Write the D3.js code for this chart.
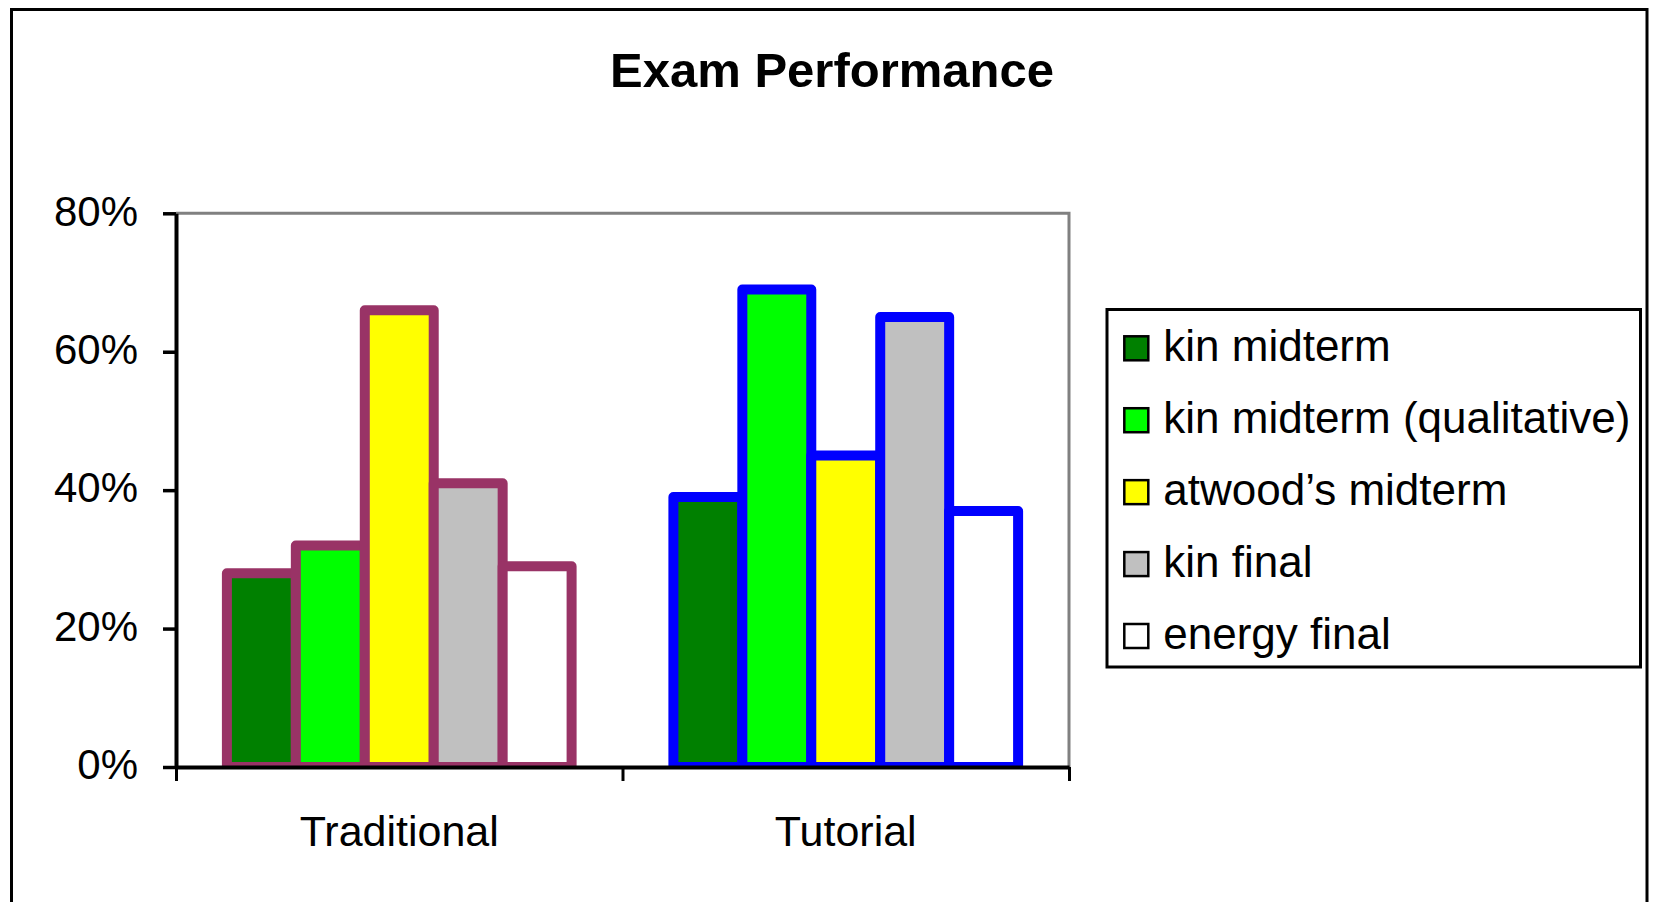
<!DOCTYPE html>
<html>
<head>
<meta charset="utf-8">
<script src="https://cdn.jsdelivr.net/npm/d3@7"></script>
<style>
  html, body { margin: 0; padding: 0; background: #fff; }
  svg { display: block; }
  text { font-family: "Liberation Sans", Arial, Helvetica, sans-serif; fill: #000; }
</style>
</head>
<body>
<svg id="chart" width="1660" height="902"></svg>
<script>
// Exam scores by teaching method
const categories = ["Traditional", "Tutorial"];
const seriesNames = ["kin midterm", "kin midterm (qualitative)", "atwood\u2019s midterm", "kin final", "energy final"];
const traditionalValues = [0.28, 0.32, 0.66, 0.41, 0.29];
const tutorialValues = [0.39, 0.69, 0.45, 0.65, 0.37];
const yTicks = [0, 0.2, 0.4, 0.6, 0.8];
const titleText = "Exam Performance";

const seriesFills = ["#008000", "#00ff00", "#ffff00", "#c0c0c0", "#ffffff"];
const groupStrokes = { "Traditional": "#993366", "Tutorial": "#0000ff" };

const valuesByCategory = { "Traditional": traditionalValues, "Tutorial": tutorialValues };

const svg = d3.select("#chart");

// outer frame
svg.append("rect")
  .attr("x", 11.5).attr("y", 9.5)
  .attr("width", 1647 - 11.5).attr("height", 1000)
  .attr("fill", "none").attr("stroke", "#000").attr("stroke-width", 3);

// title
svg.append("text")
  .attr("x", 832).attr("y", 87)
  .attr("text-anchor", "middle")
  .style("font-size", "49px").style("font-weight", "bold")
  .text(titleText);

const plot = { left: 176, right: 1069, top: 213.3, bottom: 767 };

const y = d3.scaleLinear().domain([0, 0.8]).range([plot.bottom, plot.top]);
const x0 = d3.scaleBand().domain(categories)
  .range([plot.left, plot.right])
  .paddingInner(0.228).paddingOuter(0.114);
const x1 = d3.scaleBand().domain(seriesNames).range([0, x0.bandwidth()]).padding(0);

// plot frame: top and right edges in gray
svg.append("path")
  .attr("d", `M${plot.left},${plot.top}H${plot.right}V${plot.bottom}`)
  .attr("fill", "none").attr("stroke", "#808080").attr("stroke-width", 3);

// bars, clipped at the category axis
svg.append("clipPath").attr("id", "plotClip")
  .append("rect").attr("x", 0).attr("y", 0).attr("width", 1660).attr("height", plot.bottom);

const bars = svg.append("g").attr("clip-path", "url(#plotClip)");
categories.forEach(cat => {
  const g = bars.append("g").attr("transform", `translate(${x0(cat)},0)`);
  g.selectAll("rect")
    .data(seriesNames.map((s, i) => ({ s, i, v: valuesByCategory[cat][i] })))
    .join("rect")
    .attr("x", d => x1(d.s))
    .attr("y", d => y(d.v))
    .attr("width", x1.bandwidth())
    .attr("height", d => y(0) - y(d.v))
    .attr("fill", d => seriesFills[d.i])
    .attr("stroke", groupStrokes[cat])
    .attr("stroke-width", 10)
    .attr("stroke-linejoin", "round");
});

// y axis
const yAxis = svg.append("g")
  .attr("transform", `translate(${plot.left},0)`)
  .call(d3.axisLeft(y).tickValues(yTicks).tickFormat(d3.format(".0%"))
    .tickSize(13).tickSizeOuter(0).tickPadding(25));
yAxis.select(".domain").attr("stroke", "#000").attr("stroke-width", 4);
yAxis.selectAll(".tick line").attr("stroke", "#000").attr("stroke-width", 3.5);
yAxis.selectAll(".tick text")
  .style("font-size", "42px").attr("dy", "0.28em")
  .attr("font-family", null);

// x axis: tick marks between categories
const xBound = d3.scaleLinear().domain([0, categories.length]).range([plot.left, plot.right]);
const xTickAxis = svg.append("g")
  .attr("transform", `translate(0,${plot.bottom})`)
  .call(d3.axisBottom(xBound).tickValues(d3.range(categories.length + 1))
    .tickFormat(() => "").tickSize(14).tickSizeOuter(0));
xTickAxis.select(".domain").attr("stroke", "#000").attr("stroke-width", 4);
xTickAxis.selectAll(".tick line").attr("stroke", "#000").attr("stroke-width", 3);

// x axis: category labels
const xLabelAxis = svg.append("g")
  .attr("transform", `translate(0,${plot.bottom})`)
  .call(d3.axisBottom(x0).tickSize(0).tickPadding(48));
xLabelAxis.select(".domain").remove();
xLabelAxis.selectAll(".tick text")
  .style("font-size", "43px")
  .attr("font-family", null);

// legend
const legend = svg.append("g");
legend.append("rect")
  .attr("x", 1107).attr("y", 309.5)
  .attr("width", 1640.5 - 1107).attr("height", 667 - 309.5)
  .attr("fill", "#fff").attr("stroke", "#000").attr("stroke-width", 3);

const rowY = d3.scalePoint().domain(seriesNames).range([348.3, 636]);
const item = legend.selectAll("g.item")
  .data(seriesNames.map((s, i) => ({ s, i })))
  .join("g").attr("class", "item")
  .attr("transform", d => `translate(0,${rowY(d.s)})`);
item.append("rect")
  .attr("x", 1124.3).attr("y", -12)
  .attr("width", 24).attr("height", 24)
  .attr("fill", d => seriesFills[d.i])
  .attr("stroke", "#000").attr("stroke-width", 2.5);
item.append("text")
  .attr("x", 1163.3).attr("y", 12.5)
  .style("font-size", "44px")
  .text(d => d.s);
</script>
</body>
</html>
